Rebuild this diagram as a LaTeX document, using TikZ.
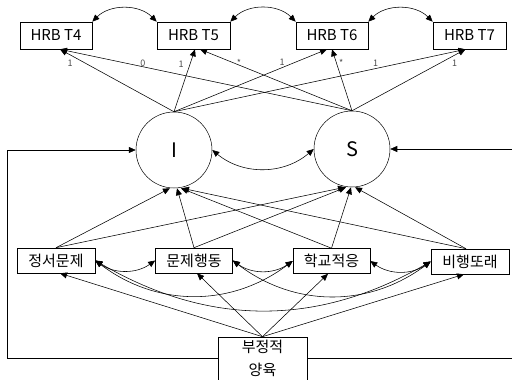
\documentclass[tikz,border=0pt]{standalone}
\usepackage{fontspec}
\setmainfont{Noto Sans CJK KR}
\usetikzlibrary{arrows.meta,calc}
\tikzset{
 box/.style={draw, line width=0.6pt, minimum width=72pt, minimum height=27pt, inner sep=0pt, font=\fontsize{15}{18}\selectfont},
 pbox/.style={box, minimum width=78pt, minimum height=25pt},
 lat/.style={draw, circle, line width=0.5pt, minimum size=76pt, inner sep=0pt, font=\fontsize{20}{24}\selectfont},
 conn/.style={line width=0.55pt, -{Triangle[length=7pt,width=6pt]}},
 dbl/.style={line width=0.55pt, {Triangle[length=7pt,width=6pt]}-{Triangle[length=7pt,width=6pt]}},
 lab/.style={font=\fontsize{9}{10}\selectfont, text=black!70, inner sep=0pt},
}
\begin{document}
\begin{tikzpicture}[x=1pt,y=1pt]
\useasboundingbox (0,0) rectangle (512,-380);
\node[box] (T4) at (56,-35.5) {HRB T4};
\node[box, minimum width=73pt] (T5) at (193.5,-35.5) {HRB T5};
\node[box] (T6) at (332,-35.5) {HRB T6};
\node[box, minimum width=73pt] (T7) at (469.5,-35.5) {HRB T7};
\node[lat] (I) at (174,-150) {I};
\node[lat] (S) at (352,-149) {S};
\node[pbox] (P1) at (56,-260.5) {정서문제};
\node[pbox, minimum width=77pt] (P2) at (194,-260.5) {문제행동};
\node[pbox, minimum width=77pt] (P3) at (331.5,-261) {학교적응};
\node[pbox] (P4) at (470,-261.5) {비행또래};
\node[box, minimum width=89pt, minimum height=53pt, align=center, text depth=12pt, font=\fontsize{15}{23}\selectfont] (N) at (262.5,-363.5) {부정적\\양육};

% loadings
\draw[conn] (I.north) -- ([xshift=4pt]T4.south) node[lab,pos=0.912,yshift=-8pt] {1};
\draw[conn] (S.north) -- ([xshift=4pt]T4.south) node[lab,pos=0.716,yshift=3pt] {0};
\draw[conn] (I.north) -- ([xshift=1.5pt]T5.south) node[lab,pos=0.767,xshift=-9pt] {1};
\draw[conn] (S.north) -- ([xshift=6.5pt]T5.south) node[lab,pos=0.743,yshift=2pt] {*};
\draw[conn] (I.north) -- ([xshift=-5pt]T6.south) node[lab,pos=0.706,yshift=5pt] {1};
\draw[conn] (S.north) -- (T6.south) node[lab,pos=0.783,xshift=5pt] {*};
\draw[conn] (I.north) -- ([xshift=-4pt]T7.south) node[lab,pos=0.692,yshift=5pt] {1};
\draw[conn] (S.north) -- ([xshift=-4pt]T7.south) node[lab,pos=0.904,yshift=-8pt] {1};

% residual covariances
\draw[dbl] (T4.north east) to[bend left=45] (T5.north west);
\draw[dbl] (T5.north east) to[bend left=45] (T6.north west);
\draw[dbl] (T6.north east) to[bend left=45] (T7.north west);
\draw[dbl] (I.east) to[bend right=40] (S.west);

% predictor covariances
\draw[dbl] (P1.east) to[bend right=35] (P2.west);
\draw[dbl] (P2.east) to[bend right=35] (P3.west);
\draw[dbl] (P3.east) to[bend right=35] (P4.west);
\draw[dbl] (P1.east) to[bend right=37] (P3.west);
\draw[dbl] (P2.east) to[bend right=37] (P4.west);
\draw[dbl] (P1.east) to[bend right=30] (P4.west);

% predictors to growth factors
\draw[conn] (P1.north) -- ([xshift=-4pt]I.south);
\draw[conn] (P1.north) -- ([xshift=-7pt]S.south);
\draw[conn] (P2.north) -- ([xshift=3pt]I.south);
\draw[conn] (P2.north) -- ([xshift=-6pt]S.south);
\draw[conn] (P3.north) -- ([xshift=7pt]I.south);
\draw[conn] (P3.north) -- ([xshift=-1pt]S.south);
\draw[conn] ([xshift=-4pt]P4.north) -- ([xshift=8pt]I.south);
\draw[conn] ([xshift=-4pt]P4.north) -- ([xshift=3pt]S.south);

% parenting to predictors
\draw[conn] (N.north) -- ([xshift=4pt]P1.south);
\draw[conn] (N.north) -- ([xshift=3pt]P2.south);
\draw[conn] (N.north) -- ([xshift=-3.5pt]P3.south);
\draw[conn] (N.north) -- ([xshift=-6pt]P4.south);

% parenting to growth factors
\draw[conn] ([yshift=5.5pt]N.west) -- ++(-210,0) |- (I.west);
\draw[conn] ([yshift=5.5pt]N.east) -- ++(206,0) |- (S.east);
\end{tikzpicture}
\end{document}
